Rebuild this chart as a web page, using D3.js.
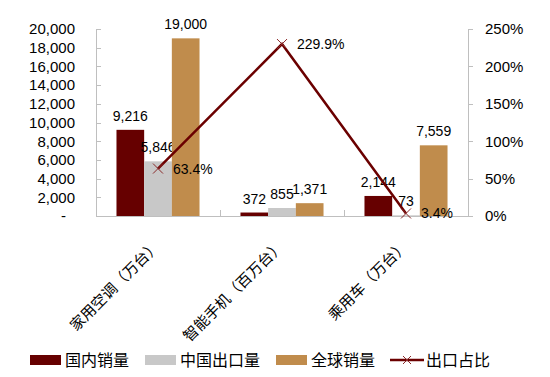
<!DOCTYPE html>
<html lang="zh">
  <head>
    <meta charset="utf-8">
    <title>出口占比</title>
    <script src="https://cdn.jsdelivr.net/npm/d3@7/dist/d3.min.js"></script>
  </head>
  <style>
    body { margin: 0; background: #fff; }
    .axis path, .axis line { stroke: #bfbfbf; shape-rendering: crispEdges; }
    .axis text { font-family: "Liberation Sans", Arial, sans-serif; font-size: 15px; fill: #000; }
    .lbl { font-family: "Liberation Sans", Arial, sans-serif; font-size: 14px; fill: #000; }
    .cat { font-family: "Noto Sans CJK SC", sans-serif; font-size: 15px; fill: #000; }
    .leg { font-family: "Noto Sans CJK SC", sans-serif; font-size: 16px; fill: #000; }
  </style>
  <body>
    <div id="chart"></div>
    <script>
      const categories = ['家用空调（万台）', '智能手机（百万台）', '乘用车（万台）'];
      const seriesNames = ['国内销量', '中国出口量', '全球销量'];
      const domestic = [9216, 372, 2144];
      const exportVol = [5846, 855, 73];
      const globalSales = [19000, 1371, 7559];
      const exportRatio = [0.634, 2.299, 0.034];
      const lineName = '出口占比';
      const leftTicks = [0, 2000, 4000, 6000, 8000, 10000, 12000, 14000, 16000, 18000, 20000];
      const rightTicks = [0, 0.5, 1, 1.5, 2, 2.5];

      const colors = ['#660000', '#c8c8c8', '#c08c4c'];
      const lineColor = '#6b0000';
      const svg_width = 550, svg_height = 377;
      const plot_left = 96, plot_right = 468, plot_top = 29, plot_bottom = 216;

      const svg = d3.select('#chart').append('svg')
        .attr('width', svg_width)
        .attr('height', svg_height);

      //scales
      const x = d3.scaleBand().domain(categories).range([plot_left, plot_right]);
      const x1 = d3.scaleBand().domain(seriesNames).range([0, x.bandwidth()]).paddingOuter(0.74);
      const y = d3.scaleLinear().domain([0, 20000]).range([plot_bottom, plot_top]);
      const yR = d3.scaleLinear().domain([0, 2.5]).range([plot_bottom, plot_top]);

      //axes
      const fmt = d3.format(',');
      svg.append('g')
        .attr('class', 'axis')
        .attr('transform', `translate(${plot_left},0)`)
        .call(d3.axisLeft(y).tickValues(leftTicks).tickSizeInner(-5).tickSizeOuter(0).tickPadding(21)
          .tickFormat(d => d === 0 ? '-' : fmt(d)))
        .call(g => g.selectAll('text').filter(d => d === 0).attr('dx', -9));

      svg.append('g')
        .attr('class', 'axis')
        .attr('transform', `translate(${plot_right},0)`)
        .call(d3.axisRight(yR).tickValues(rightTicks).tickSizeInner(5).tickSizeOuter(0).tickPadding(12)
          .tickFormat(d3.format('.0%')));

      const xAxis = svg.append('g').attr('class', 'axis');
      xAxis.append('line')
        .attr('x1', plot_left).attr('x2', plot_right)
        .attr('y1', plot_bottom).attr('y2', plot_bottom);
      xAxis.selectAll('line.sep')
        .data(categories.slice(1))
        .enter().append('line')
        .attr('class', 'sep')
        .attr('x1', d => x(d)).attr('x2', d => x(d))
        .attr('y1', plot_bottom).attr('y2', plot_bottom - 6);

      //bars
      const seriesData = [domestic, exportVol, globalSales];
      seriesData.forEach((vals, s) => {
        const g = svg.append('g');
        g.selectAll('rect')
          .data(vals)
          .enter().append('rect')
          .attr('x', (d, i) => x(categories[i]) + x1(seriesNames[s]))
          .attr('y', d => y(d))
          .attr('width', x1.bandwidth())
          .attr('height', d => plot_bottom - y(d))
          .attr('fill', colors[s]);
        g.selectAll('text')
          .data(vals)
          .enter().append('text')
          .attr('class', 'lbl')
          .attr('x', (d, i) => x(categories[i]) + x1(seriesNames[s]) + x1.bandwidth() / 2)
          .attr('y', d => y(d) - 9)
          .attr('text-anchor', 'middle')
          .text(d => fmt(d));
      });

      //line
      const cx = (d, i) => x(categories[i]) + x.bandwidth() / 2;
      svg.append('path')
        .datum(exportRatio)
        .attr('fill', 'none')
        .attr('stroke', lineColor)
        .attr('stroke-width', 2.5)
        .attr('d', d3.line().x(cx).y(d => yR(d)));

      const markers = svg.append('g');
      markers.selectAll('path')
        .data(exportRatio)
        .enter().append('path')
        .attr('transform', (d, i) => `translate(${cx(d, i)},${yR(d)})`)
        .attr('d', 'M-5,-5L5,5M-5,5L5,-5')
        .attr('stroke', '#8b2a2a')
        .attr('stroke-width', 1);
      markers.selectAll('text')
        .data(exportRatio)
        .enter().append('text')
        .attr('class', 'lbl')
        .attr('x', (d, i) => cx(d, i) + 15)
        .attr('y', d => yR(d) + 5)
        .text(d => d3.format('.1%')(d));

      //category labels
      svg.selectAll('text.cat')
        .data(categories)
        .enter().append('text')
        .attr('class', 'cat')
        .attr('text-anchor', 'end')
        .attr('transform', d => `translate(${x(d) + x.bandwidth() / 2 + 3},${plot_bottom + 31}) rotate(-45)`)
        .text(d => d);

      //legend
      const legY = 360;
      const legItems = [
        {name: seriesNames[0], x: 30, color: colors[0]},
        {name: seriesNames[1], x: 145, color: colors[1]},
        {name: seriesNames[2], x: 276, color: colors[2]}
      ];
      const leg = svg.append('g');
      legItems.forEach(it => {
        leg.append('rect')
          .attr('x', it.x).attr('y', legY - 5)
          .attr('width', 31).attr('height', 10)
          .attr('fill', it.color);
        leg.append('text')
          .attr('class', 'leg')
          .attr('x', it.x + 35).attr('y', legY + 6)
          .text(it.name);
      });
      leg.append('line')
        .attr('x1', 390).attr('x2', 424)
        .attr('y1', legY).attr('y2', legY)
        .attr('stroke', lineColor).attr('stroke-width', 2.5);
      leg.append('path')
        .attr('transform', `translate(407,${legY})`)
        .attr('d', 'M-4,-4L4,4M-4,4L4,-4')
        .attr('stroke', '#8b2a2a').attr('stroke-width', 1);
      leg.append('text')
        .attr('class', 'leg')
        .attr('x', 426).attr('y', legY + 6)
        .text(lineName);
    </script>
  </body>
</html>
